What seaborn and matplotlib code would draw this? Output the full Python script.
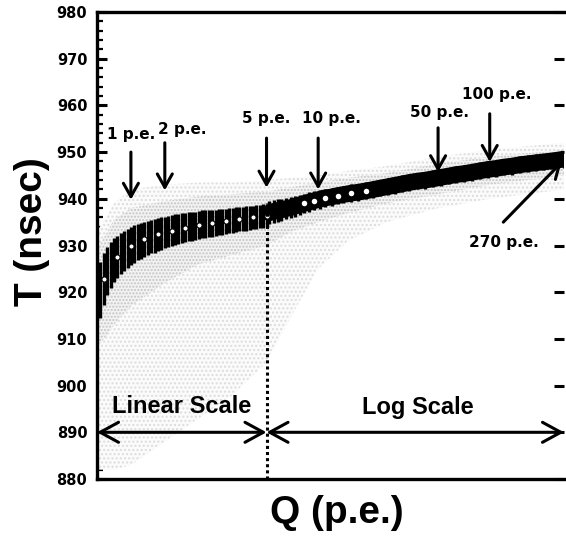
import numpy as np
import matplotlib
matplotlib.use('Agg')
import matplotlib.pyplot as plt
from matplotlib.ticker import MultipleLocator, NullLocator
import seaborn as sns

# mean time vs charge, linear part (0-5 p.e.)
q_lin = [0.1, 0.2, 0.3, 0.4, 0.5, 0.6, 0.7, 0.8, 0.9, 1.0,
         1.1, 1.2, 1.3, 1.4, 1.5, 1.6, 1.7, 1.8, 1.9, 2.0,
         2.1, 2.2, 2.3, 2.4, 2.5, 2.6, 2.7, 2.8, 2.9, 3.0,
         3.1, 3.2, 3.3, 3.4, 3.5, 3.6, 3.7, 3.8, 3.9, 4.0,
         4.1, 4.2, 4.3, 4.4, 4.5, 4.6, 4.7, 4.8, 4.9, 5.0]
t_lin = [920.5, 922.8, 924.5, 925.8, 926.8, 927.6, 928.3, 928.9, 929.4, 929.9,
         930.3, 930.7, 931.0, 931.3, 931.6, 931.9, 932.1, 932.4, 932.6, 932.8,
         933.0, 933.2, 933.4, 933.5, 933.7, 933.8, 934.0, 934.1, 934.2, 934.4,
         934.5, 934.6, 934.7, 934.8, 934.9, 935.0, 935.1, 935.2, 935.3, 935.4,
         935.5, 935.6, 935.7, 935.8, 935.9, 936.0, 936.1, 936.2, 936.3, 936.4]
e_lin = [6.0, 5.6, 5.2, 4.9, 4.7, 4.5, 4.4, 4.3, 4.2, 4.1,
         4.0, 3.9, 3.8, 3.8, 3.7, 3.6, 3.6, 3.5, 3.5, 3.4,
         3.4, 3.3, 3.3, 3.2, 3.2, 3.1, 3.1, 3.1, 3.0, 3.0,
         3.0, 2.9, 2.9, 2.9, 2.8, 2.8, 2.8, 2.7, 2.7, 2.7,
         2.7, 2.6, 2.6, 2.6, 2.6, 2.5, 2.5, 2.5, 2.5, 2.5]

# log part (5-270 p.e.)
q_log = [5.2, 5.5, 5.8, 6.1, 6.5, 6.9, 7.3, 7.8, 8.3, 8.9,
         9.5, 10.2, 11, 12, 13, 14, 15.5, 17, 19, 21,
         23, 25.5, 28, 31, 34, 38, 42, 47, 52, 58,
         64, 71, 79, 88, 98, 109, 121, 135, 150, 167,
         185, 205, 228, 250, 270]
t_log = [937.0, 937.3, 937.5, 937.6, 937.9, 938.1, 938.4, 938.7, 939.0, 939.3,
         939.6, 939.9, 940.2, 940.4, 940.7, 940.9, 941.2, 941.4, 941.7, 942.0,
         942.3, 942.6, 942.9, 943.2, 943.5, 943.8, 944.0, 944.3, 944.6, 944.9,
         945.2, 945.4, 945.7, 946.0, 946.3, 946.5, 946.8, 947.0, 947.3, 947.5,
         947.7, 947.9, 948.1, 948.3, 948.5]
e_log = [2.5, 2.5, 2.4, 2.4, 2.3, 2.3, 2.2, 2.2, 2.1, 2.1,
         2.0, 2.0, 2.0, 1.9, 1.9, 1.9, 1.9, 1.8, 1.8, 1.8,
         1.8, 1.8, 1.8, 1.8, 1.8, 1.8, 1.8, 1.8, 1.8, 1.8,
         1.8, 1.8, 1.8, 1.8, 1.8, 1.8, 1.8, 1.8, 1.8, 1.8,
         1.8, 1.8, 1.8, 1.8, 1.8]

# rough envelope of the raw event cloud (grey dots)
q_cloud = [0.0, 0.5, 1, 2, 3, 4, 5, 7, 10, 15, 25, 50, 100, 271]
cloud_lo = [882, 882, 883, 888, 893, 898, 905, 915, 925, 931, 935, 938, 940, 942]
cloud_hi = [933, 939, 942, 943, 943.5, 943.5, 944, 944.5, 945, 946, 947, 949, 950.5, 952]
core_lo = [908, 913, 917, 922, 926, 928, 930, 933, 935, 937, 939, 941, 943, 945]
core_hi = [929, 935.5, 938, 939.5, 940.5, 941, 941.5, 942.5, 943.5, 944.5, 945.5, 947.5, 949, 950.5]

# arrow labels
lab_text = ['1 p.e.', '2 p.e.', '5 p.e.', '10 p.e.', '50 p.e.', '100 p.e.']
lab_q = [1.0, 2.5, 5.0, 12.0, 51, 110]
lab_t = [953.7, 954.9, 957.1, 957.1, 958.4, 962.4]
arr_q = [1, 2, 5, 10, 50, 100]
arr_tail = [950.0, 952.0, 953.0, 953.0, 955.2, 958.2]
arr_tip = [939.8, 941.8, 942.4, 942.0, 945.7, 947.9]

K = 5.06  # width of one decade in "linear p.e." units


def fwd(q):
    q = np.asarray(q, dtype=float)
    return np.where(q <= 5, q, 5 + K * np.log10(np.maximum(q, 5) / 5))


def inv(u):
    u = np.asarray(u, dtype=float)
    return np.where(u <= 5, u, 5 * 10 ** ((np.clip(u, 5, 40) - 5) / K))


sns.set_theme(style='ticks')
plt.rcParams['font.family'] = ['Liberation Sans', 'DejaVu Sans']
plt.rcParams['hatch.linewidth'] = 1.0
for key in ['text.color', 'axes.labelcolor', 'xtick.color', 'ytick.color']:
    plt.rcParams[key] = 'black'
plt.rcParams['ytick.right'] = True

fig = plt.figure(figsize=(5.66, 5.37), dpi=100)
ax = fig.add_axes([97 / 566, 1 - 479 / 537, 467 / 566, 467 / 537])
ax.set_xscale('function', functions=(fwd, inv))

# grey event cloud
ax.fill_between(q_cloud, cloud_lo, cloud_hi, facecolor='#fbfbfb',
                edgecolor='#dcdcdc', hatch='....', linewidth=0, zorder=1)
ax.fill_between(q_cloud, core_lo, core_hi, facecolor='#f3f3f3',
                edgecolor='#c4c4c4', hatch='.....', linewidth=0, zorder=1)

# mean values with rms bars
ax.errorbar(q_lin, t_lin, yerr=e_lin, fmt='none', ecolor='black',
            elinewidth=2.4, capsize=0, zorder=3)
ax.errorbar(q_log, t_log, yerr=e_log, fmt='none', ecolor='black',
            elinewidth=2.4, capsize=0, zorder=3)
sns.lineplot(x=q_log, y=t_log, color='black', linewidth=12, ax=ax, zorder=3)
sns.scatterplot(x=q_lin[1::4], y=t_lin[1::4], marker='o', s=14,
                facecolor='white', edgecolor='black', linewidth=0.8,
                ax=ax, zorder=4)
sns.scatterplot(x=q_log[8:20:2], y=t_log[8:20:2], marker='o', s=30,
                facecolor='white', edgecolor='black', linewidth=1.5,
                ax=ax, zorder=4)

# 5 p.e. boundary
ax.vlines(5, 880, 939, colors='black', linestyles=(0, (1, 1)),
          linewidth=2.2, zorder=5)

# scale arrows
arrow_kw = dict(arrowstyle='<->, head_length=1.1, head_width=0.6',
                color='black', lw=2.2, shrinkA=0, shrinkB=0)
ax.annotate('', xy=(0, 890), xytext=(5, 890), arrowprops=arrow_kw,
            annotation_clip=False)
ax.annotate('', xy=(5, 890), xytext=(271, 890), arrowprops=arrow_kw,
            annotation_clip=False)
ax.text(2.5, 895.6, 'Linear Scale', ha='center', va='center',
        fontsize=17, fontweight='bold')
ax.text(38, 895.3, 'Log Scale', ha='center', va='center',
        fontsize=17, fontweight='bold')

# p.e. markers
down_kw = dict(arrowstyle='->, head_length=0.8, head_width=0.45',
               color='black', lw=2.2, shrinkA=0, shrinkB=0)
for txt, tq, tt, aq, t0, t1 in zip(lab_text, lab_q, lab_t, arr_q, arr_tail, arr_tip):
    ax.annotate('', xy=(aq, t1), xytext=(aq, t0), arrowprops=down_kw)
    ax.text(tq, tt, txt, ha='center', va='center', fontsize=11,
            fontweight='bold', family='DejaVu Sans')
ax.annotate('', xy=(262, 947.8), xytext=(120, 935.0), arrowprops=down_kw)
ax.text(121, 930.6, '270 p.e.', ha='center', va='center', fontsize=11,
        fontweight='bold', family='DejaVu Sans')

ax.set_xlim(0, 271)
ax.set_ylim(880, 980)
ax.set_xticks([])
ax.xaxis.set_minor_locator(NullLocator())
ax.yaxis.set_major_locator(MultipleLocator(10))
ax.yaxis.set_minor_locator(MultipleLocator(2))
ax.tick_params(axis='y', which='major', direction='in', length=7, width=2.2,
               left=True, right=True, pad=7)
ax.tick_params(axis='y', which='minor', direction='in', length=4, width=1.6,
               left=True, right=False)
for lab in ax.get_yticklabels():
    lab.set_fontfamily('DejaVu Sans')
    lab.set_fontweight('bold')
    lab.set_fontsize(10.5)

for side in ['left', 'top', 'bottom']:
    ax.spines[side].set_linewidth(2.4)
    ax.spines[side].set_color('black')
ax.spines['right'].set_visible(False)

ax.set_xlabel('Q (p.e.)', fontsize=28, fontweight='bold')
ax.xaxis.set_label_coords(0.514, -0.035)
ax.set_ylabel('T (nsec)', fontsize=28, fontweight='bold')
ax.yaxis.set_label_coords(-0.10, 0.53)

fig.savefig('out.png', dpi=100)
